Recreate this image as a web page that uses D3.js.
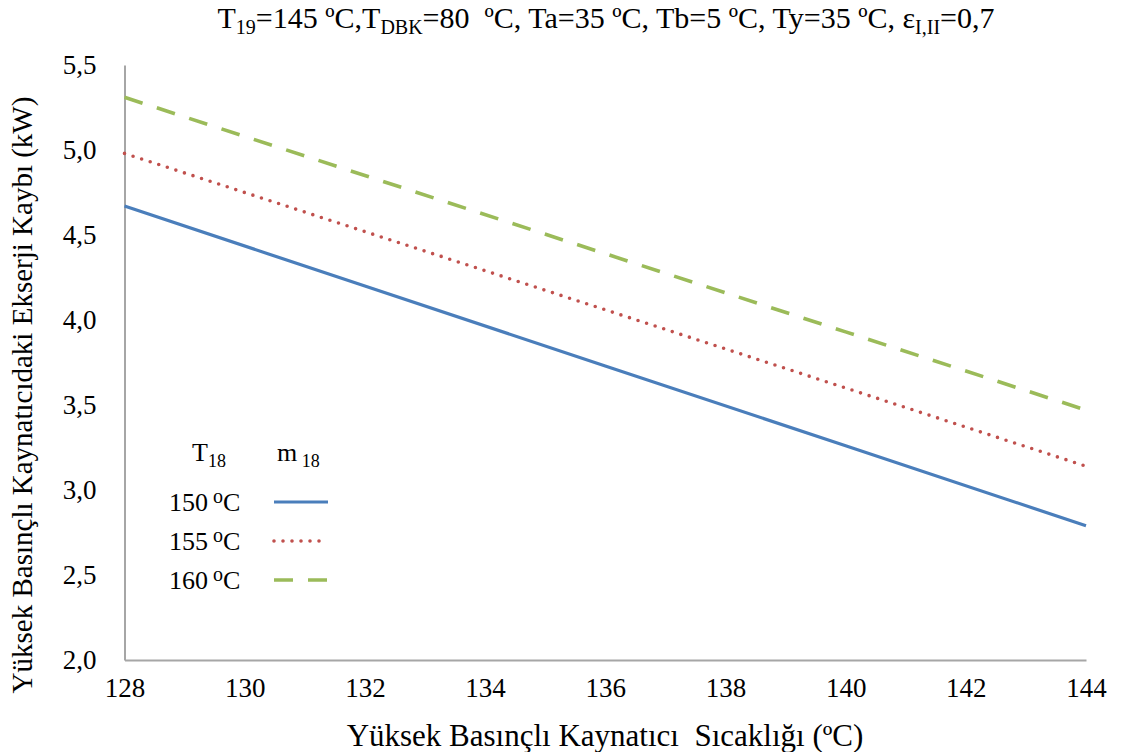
<!DOCTYPE html>
<html>
<head>
<meta charset="utf-8">
<script src="https://cdn.jsdelivr.net/npm/d3@7"></script>
<style>
  body { margin: 0; background: #fff; }
  svg { display: block; }
  svg text { font-family: "Liberation Serif", "Times New Roman", serif !important; fill: #000; }
</style>
</head>
<body>
<svg id="chart" width="1126" height="752"></svg>
<script>
// Boiler temperature (°C) on the x axis
const temps = [128, 132, 136, 140, 144];
// Exergy loss (kW) for each T18 case
const loss150 = [4.67, 4.20, 3.73, 3.26, 2.79];
const loss155 = [4.98, 4.52, 4.06, 3.60, 3.14];
const loss160 = [5.31, 4.85, 4.39, 3.93, 3.47];
const seriesLabels = ["150", "155", "160"];
const xTicks = [128, 130, 132, 134, 136, 138, 140, 142, 144];
const yTicks = [2.0, 2.5, 3.0, 3.5, 4.0, 4.5, 5.0, 5.5];

const svg = d3.select("#chart");
const m = { left: 124.5, right: 1086, top: 65, bottom: 660 };

const x = d3.scaleLinear().domain([128, 144]).range([m.left, m.right]);
const y = d3.scaleLinear().domain([2.0, 5.5]).range([m.bottom, m.top]);
const fmt = d => d3.format(".1f")(d).replace(".", ",");

// axes (no tick marks, grey frame lines)
const xAxis = svg.append("g").attr("transform", `translate(0,${m.bottom})`)
  .call(d3.axisBottom(x).tickValues(xTicks).tickSize(0).tickPadding(18).tickFormat(d3.format("d")));
const yAxis = svg.append("g").attr("transform", `translate(${m.left},0)`)
  .call(d3.axisLeft(y).tickValues(yTicks).tickSize(0).tickPadding(28).tickFormat(fmt));
[xAxis, yAxis].forEach(g => {
  g.attr("font-family", null);
  g.select(".domain").attr("stroke", "#a6a6a6").attr("stroke-width", 2);
  g.selectAll("text").attr("font-size", 27);
});
xAxis.selectAll("text").attr("dy", "0.71em");

const series = [
  { vals: loss150, color: "#4a7ebb", dash: null, width: 3.2, cap: "butt" },
  { vals: loss155, color: "#c0504d", dash: "0,9", width: 3.6, cap: "round" },
  { vals: loss160, color: "#9bbb59", dash: "19,15", width: 3.6, cap: "butt" }
];

const line = d3.line().x((d, i) => x(temps[i])).y(d => y(d));
series.forEach(s => {
  svg.append("path").datum(s.vals)
    .attr("d", line)
    .attr("fill", "none")
    .attr("stroke", s.color)
    .attr("stroke-width", s.width)
    .attr("stroke-linecap", s.cap)
    .attr("stroke-dasharray", s.dash);
});

// title with subscripts
const title = svg.append("text").attr("x", 606).attr("y", 28)
  .attr("text-anchor", "middle").attr("font-size", 30).style("white-space", "pre");
const parts = [
  ["T", ""], ["19", "sub"], ["=145 ºC,T", ""], ["DBK", "sub"], ["=80  ºC, Ta=35 ºC, Tb=5 ºC, Ty=35 ºC, ε", ""],
  ["I,II", "sub"], ["=0,7", ""]
];
parts.forEach(([t, k]) => {
  const ts = title.append("tspan").text(t);
  if (k === "sub") ts.attr("font-size", 20).attr("baseline-shift", "-30%");
});

// axis titles
svg.append("text").attr("x", 605).attr("y", 746).attr("text-anchor", "middle")
  .attr("font-size", 31).style("white-space", "pre").text("Yüksek Basınçlı Kaynatıcı  Sıcaklığı (ºC)");
svg.append("text").attr("transform", "translate(32,395) rotate(-90)").attr("text-anchor", "middle")
  .attr("font-size", 29).text("Yüksek Basınçlı Kaynatıcıdaki Ekserji Kaybı (kW)");

// legend
const lg = svg.append("g");
const head1 = lg.append("text").attr("x", 192).attr("y", 461).attr("font-size", 26);
head1.append("tspan").text("T");
head1.append("tspan").text("18").attr("font-size", 18).attr("baseline-shift", "-35%");
const head2 = lg.append("text").attr("x", 277).attr("y", 461).attr("font-size", 26);
head2.append("tspan").text("m");
head2.append("tspan").text(" 18").attr("font-size", 18).attr("baseline-shift", "-35%");

seriesLabels.forEach((lab, i) => {
  const yy = 502 + i * 39;
  const t = lg.append("text").attr("x", 169).attr("y", yy + 9).attr("font-size", 26);
  t.append("tspan").text(lab);
  t.append("tspan").text("o").attr("font-size", 20).attr("dx", 5).attr("baseline-shift", "40%");
  t.append("tspan").text("C");
  const s = series[i];
  lg.append("line").attr("x1", 274).attr("x2", 328).attr("y1", yy).attr("y2", yy)
    .attr("stroke", s.color).attr("stroke-width", s.width)
    .attr("stroke-linecap", s.cap).attr("stroke-dasharray", s.dash);
});
</script>
</body>
</html>
